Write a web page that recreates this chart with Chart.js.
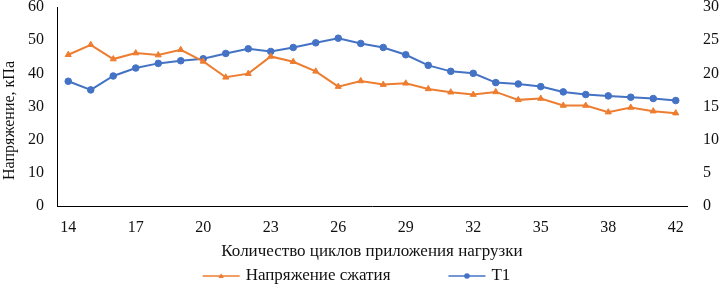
<!DOCTYPE html>
<html>
<head>
<meta charset="utf-8">
<script src="https://cdn.jsdelivr.net/npm/chart.js@4.4.1/dist/chart.umd.min.js"></script>
<style>
  html, body { margin: 0; padding: 0; background: #fff; }
  #wrap { width: 719px; height: 286px; position: relative; }
</style>
</head>
<body>
<div id="wrap"><canvas id="c" width="719" height="286"></canvas></div>
<script>
// ---- data ----
const categories = ["14","15","16","17","18","19","20","21","22","23","24","25","26","27","28","29","30","31","32","33","34","35","36","37","38","39","40","42"];
const stressValues = [45.6, 48.6, 44.3, 46.1, 45.5, 47.1, 43.6, 38.8, 39.9, 45.1, 43.5, 40.6, 36.0, 37.7, 36.6, 37.0, 35.3, 34.3, 33.6, 34.4, 32.0, 32.4, 30.3, 30.3, 28.3, 29.7, 28.6, 28.0];
const t1Values = [18.8, 17.5, 19.6, 20.8, 21.5, 21.9, 22.2, 23.0, 23.7, 23.3, 23.9, 24.6, 25.3, 24.5, 23.9, 22.8, 21.2, 20.3, 20.0, 18.6, 18.4, 18.0, 17.2, 16.8, 16.6, 16.4, 16.2, 15.9];
const seriesNames = ["Напряжение сжатия", "T1"];
const xTitle = "Количество циклов приложения нагрузки";
const yTitle = "Напряжение, кПа";

const ORANGE = '#ED7D31';
const BLUE = '#4472C4';
const FONT = "'Liberation Serif', 'Times New Roman', serif";
const TXT = '#111';

function drawMarker(ctx, style, x, y, r, color) {
  ctx.save();
  ctx.fillStyle = color;
  ctx.beginPath();
  if (style === 'triangle') {
    const h = r * 1.6;
    ctx.moveTo(x, y - h * 0.6);
    ctx.lineTo(x + h * 0.6, y + h * 0.45);
    ctx.lineTo(x - h * 0.6, y + h * 0.45);
    ctx.closePath();
  } else {
    ctx.arc(x, y, r, 0, Math.PI * 2);
  }
  ctx.fill();
  ctx.restore();
}

const legendPlugin = {
  id: 'lineLegend',
  afterDraw(chart) {
    const ctx = chart.ctx;
    ctx.save();
    ctx.font = "17px " + FONT;
    ctx.textBaseline = 'middle';
    const lineLen = 37, gapLT = 6, gapItems = 58;
    const items = chart.data.datasets.map(ds => ({ds, w: ctx.measureText(ds.label).width}));
    let total = 0;
    items.forEach((it, i) => { total += lineLen + gapLT + it.w + (i < items.length - 1 ? gapItems : 0); });
    let x = (chart.width - total) / 2 - 3;
    const y = 276;
    items.forEach(it => {
      ctx.strokeStyle = it.ds.borderColor;
      ctx.lineWidth = 1.5;
      ctx.beginPath();
      ctx.moveTo(x, y); ctx.lineTo(x + lineLen, y); ctx.stroke();
      drawMarker(ctx, it.ds.pointStyle, x + lineLen / 2, y, 2.8, it.ds.borderColor);
      ctx.fillStyle = TXT;
      ctx.fillText(it.ds.label, x + lineLen + gapLT, y);
      x += lineLen + gapLT + it.w + gapItems;
    });
    ctx.restore();
  }
};

new Chart(document.getElementById('c'), {
  type: 'line',
  data: {
    labels: categories,
    datasets: [
      {
        label: seriesNames[0], data: stressValues, yAxisID: 'y',
        borderColor: ORANGE, backgroundColor: ORANGE, borderWidth: 2,
        pointStyle: 'triangle', pointRadius: 3.5, pointBorderWidth: 1,
        tension: 0
      },
      {
        label: seriesNames[1], data: t1Values, yAxisID: 'y2',
        borderColor: BLUE, backgroundColor: BLUE, borderWidth: 2,
        pointStyle: 'circle', pointRadius: 3.3, pointBorderWidth: 1,
        tension: 0
      }
    ]
  },
  options: {
    responsive: false,
    animation: false,
    layout: { padding: { top: 7, bottom: 24, left: 0, right: 0 } },
    plugins: { legend: { display: false }, tooltip: { enabled: false } },
    scales: {
      x: {
        type: 'category',
        offset: true,
        grid: { display: false, drawTicks: false },
        border: { display: true, color: '#000', width: 1 },
        ticks: {
          autoSkip: false, maxRotation: 0, padding: 12,
          color: TXT, font: { family: FONT, size: 16 },
          callback: function(v, i) { return i % 3 === 0 ? this.getLabelForValue(v) : ''; }
        },
        title: { display: true, text: xTitle, color: TXT, font: { family: FONT, size: 17 }, padding: { top: 5, bottom: 0 } },
        afterFit(s) { s.height = 56; s.paddingLeft = 0; s.paddingRight = 0; }
      },
      y: {
        position: 'left', min: 0, max: 60,
        grid: { display: false, drawTicks: false },
        border: { display: true, color: '#000', width: 1 },
        ticks: { stepSize: 10, padding: 13, color: TXT, font: { family: FONT, size: 16 } },
        title: { display: true, text: yTitle + "\u00A0".repeat(7), color: TXT, font: { family: FONT, size: 16 }, padding: 0 },
        afterFit(s) { s.width = 57; s.paddingTop = 0; s.paddingBottom = 0; }
      },
      y2: {
        position: 'right', min: 0, max: 30,
        grid: { display: false, drawTicks: false },
        border: { display: false },
        ticks: { stepSize: 5, padding: 16, color: TXT, font: { family: FONT, size: 16 } },
        afterFit(s) { s.width = 32; s.paddingTop = 0; s.paddingBottom = 0; }
      }
    }
  },
  plugins: [legendPlugin]
});
</script>
</body>
</html>
